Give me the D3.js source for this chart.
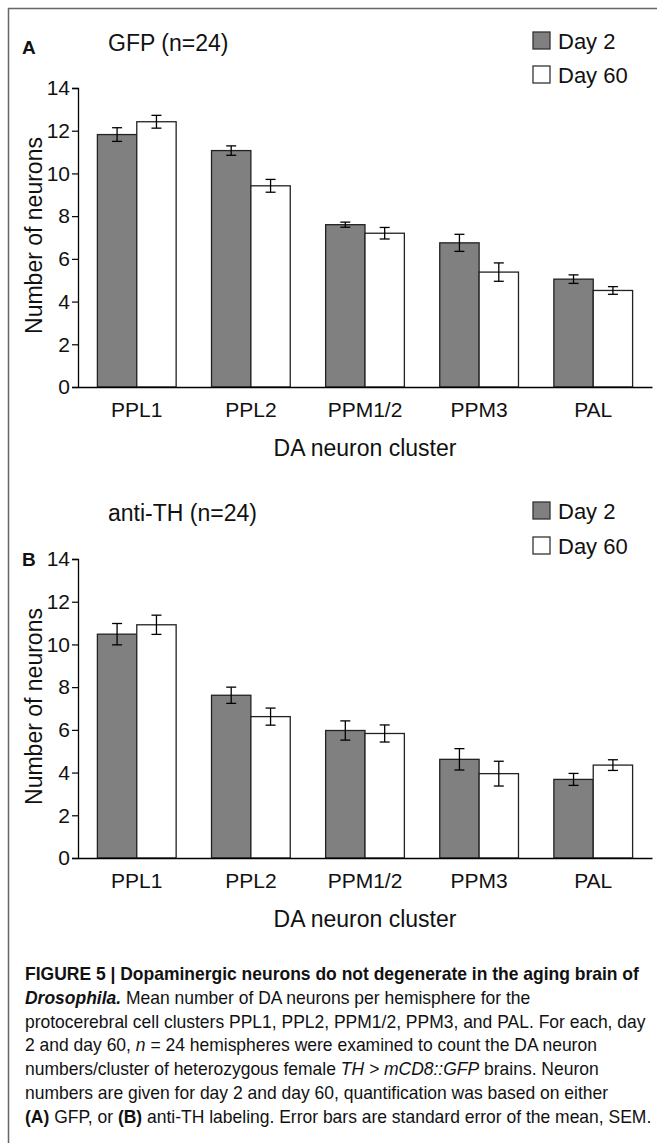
<!DOCTYPE html>
<html lang="en">
  <head>
    <meta charset="UTF-8" />
    <title>DA neuron clusters</title>
    <script src="https://d3js.org/d3.v7.min.js"></script>
    <style>
      body {
        margin: 0;
        background: #fff;
      }
      svg text {
        font-family: "Liberation Sans", Arial, Helvetica, sans-serif;
        fill: #111;
      }
    </style>
  </head>
  <body>
    <div id="chart"></div>
    <script>
      // data
      const categories = ["PPL1", "PPL2", "PPM1/2", "PPM3", "PAL"];
      const seriesNames = ["Day 2", "Day 60"];
      const yTicks = [0, 2, 4, 6, 8, 10, 12, 14];

      const gfpDay2 = [11.82, 11.07, 7.6, 6.75, 5.05];
      const gfpDay2Err = [0.32, 0.22, 0.12, 0.4, 0.2];
      const gfpDay60 = [12.42, 9.42, 7.2, 5.38, 4.52];
      const gfpDay60Err = [0.3, 0.3, 0.27, 0.43, 0.18];

      const thDay2 = [10.48, 7.62, 5.97, 4.62, 3.68];
      const thDay2Err = [0.5, 0.38, 0.45, 0.5, 0.28];
      const thDay60 = [10.92, 6.62, 5.83, 3.95, 4.35];
      const thDay60Err = [0.45, 0.4, 0.4, 0.58, 0.25];

      const width = 657;
      const height = 1143;
      const colors = { "Day 2": "#808080", "Day 60": "#ffffff" };

      const svg = d3
        .select("#chart")
        .append("svg")
        .attr("width", width)
        .attr("height", height);

      // figure frame (top and left only)
      svg
        .append("path")
        .attr("d", `M8.5,${height} V8.5 H${width}`)
        .attr("fill", "none")
        .attr("stroke", "#666")
        .attr("stroke-width", 1.5);

      function drawPanel(opts) {
        const g = svg.append("g");

        const y = d3.scaleLinear().domain([0, 14]).range([opts.y0, opts.y14]);
        const x = d3
          .scaleBand()
          .domain(categories)
          .range([78, 652])
          .paddingInner(0.31)
          .paddingOuter(0.17);
        const xs = d3
          .scaleBand()
          .domain(seriesNames)
          .range([0, x.bandwidth()]);

        const rows = categories.map((c, i) => ({
          cat: c,
          vals: [
            { s: "Day 2", v: opts.day2[i], e: opts.day2Err[i] },
            { s: "Day 60", v: opts.day60[i], e: opts.day60Err[i] },
          ],
        }));

        const groups = g
          .selectAll(".grp")
          .data(rows)
          .enter()
          .append("g")
          .attr("transform", (d) => `translate(${x(d.cat)},0)`);

        groups
          .selectAll("rect")
          .data((d) => d.vals)
          .enter()
          .append("rect")
          .attr("x", (d) => xs(d.s))
          .attr("width", xs.bandwidth())
          .attr("y", (d) => y(d.v))
          .attr("height", (d) => y(0) - y(d.v))
          .attr("fill", (d) => colors[d.s])
          .attr("stroke", "#222")
          .attr("stroke-width", 1.3);

        // error bars
        const err = groups
          .selectAll(".err")
          .data((d) => d.vals)
          .enter()
          .append("g")
          .attr("stroke", "#000")
          .attr("stroke-width", 1.3);
        const cx = (d) => xs(d.s) + xs.bandwidth() / 2;
        err
          .append("line")
          .attr("x1", cx)
          .attr("x2", cx)
          .attr("y1", (d) => y(d.v - d.e))
          .attr("y2", (d) => y(d.v + d.e));
        err
          .append("line")
          .attr("x1", (d) => cx(d) - 5)
          .attr("x2", (d) => cx(d) + 5)
          .attr("y1", (d) => y(d.v + d.e))
          .attr("y2", (d) => y(d.v + d.e));
        err
          .append("line")
          .attr("x1", (d) => cx(d) - 5)
          .attr("x2", (d) => cx(d) + 5)
          .attr("y1", (d) => y(d.v - d.e))
          .attr("y2", (d) => y(d.v - d.e));

        // axes
        const yAxis = g
          .append("g")
          .attr("transform", "translate(78,0)")
          .call(d3.axisLeft(y).tickValues(yTicks).tickSize(6).tickPadding(2));
        yAxis.attr("font-family", null);
        yAxis.selectAll("text").attr("font-size", 21);

        const xAxis = g
          .append("g")
          .attr("transform", `translate(0,${opts.y0})`)
          .call(d3.axisBottom(x).tickSize(0).tickSizeOuter(0).tickPadding(15));
        xAxis.attr("font-family", null);
        xAxis.selectAll("text").attr("font-size", 21);
        g.selectAll(".domain").attr("stroke", "#000").attr("stroke-width", 1.3);
        g.selectAll(".tick line").attr("stroke", "#000").attr("stroke-width", 1.2);

        // axis titles
        g.append("text")
          .attr("transform", `translate(34,${(opts.y0 + opts.y14) / 2 - 2}) rotate(-90)`)
          .attr("text-anchor", "middle")
          .attr("dominant-baseline", "central")
          .attr("font-size", 23)
          .text("Number of neurons");

        g.append("text")
          .attr("x", 365)
          .attr("y", opts.y0 + 61)
          .attr("text-anchor", "middle")
          .attr("dominant-baseline", "central")
          .attr("font-size", 23)
          .text("DA neuron cluster");

        // panel letter and title
        g.append("text")
          .attr("x", 22)
          .attr("y", opts.letterY)
          .attr("dominant-baseline", "central")
          .attr("font-size", 19)
          .attr("font-weight", "bold")
          .text(opts.letter);

        g.append("text")
          .attr("x", 108)
          .attr("y", opts.titleY)
          .attr("dominant-baseline", "central")
          .attr("font-size", 23)
          .text(opts.title);

        // legend
        const leg = g
          .selectAll(".leg")
          .data(seriesNames)
          .enter()
          .append("g")
          .attr("transform", (d, i) => `translate(533,${opts.legendY[i]})`);
        leg
          .append("rect")
          .attr("x", 0)
          .attr("y", -9)
          .attr("width", 17)
          .attr("height", 17)
          .attr("fill", (d) => colors[d])
          .attr("stroke", "#333")
          .attr("stroke-width", 1.3);
        leg
          .append("text")
          .attr("x", 25)
          .attr("y", 0)
          .attr("dominant-baseline", "central")
          .attr("font-size", 22)
          .text((d) => d);
      }

      drawPanel({
        y0: 387,
        y14: 88,
        day2: gfpDay2,
        day2Err: gfpDay2Err,
        day60: gfpDay60,
        day60Err: gfpDay60Err,
        letter: "A",
        letterY: 47,
        title: "GFP (n=24)",
        titleY: 43,
        legendY: [41, 75],
      });

      drawPanel({
        y0: 858,
        y14: 559,
        day2: thDay2,
        day2Err: thDay2Err,
        day60: thDay60,
        day60Err: thDay60Err,
        letter: "B",
        letterY: 559,
        title: "anti-TH  (n=24)",
        titleY: 513,
        legendY: [511, 546],
      });

      // caption
      const captionLines = [
        [{ t: "FIGURE 5 | Dopaminergic neurons do not degenerate in the aging brain of", b: true }],
        [
          { t: "Drosophila.", b: true, i: true },
          { t: " Mean number of DA neurons per hemisphere for the" },
        ],
        [{ t: "protocerebral cell clusters PPL1, PPL2, PPM1/2, PPM3, and PAL. For each, day" }],
        [
          { t: "2 and day 60, " },
          { t: "n", i: true },
          { t: " = 24 hemispheres were examined to count the DA neuron" },
        ],
        [
          { t: "numbers/cluster of heterozygous female " },
          { t: "TH > mCD8::GFP", i: true },
          { t: " brains. Neuron" },
        ],
        [{ t: "numbers are given for day 2 and day 60, quantification was based on either" }],
        [
          { t: "(A)", b: true },
          { t: " GFP, or " },
          { t: "(B)", b: true },
          { t: " anti-TH labeling. Error bars are standard error of the mean, SEM." },
        ],
      ];

      const cap = svg.append("g").attr("class", "caption");
      const capText = cap
        .selectAll("text")
        .data(captionLines)
        .enter()
        .append("text")
        .attr("x", 0)
        .attr("y", 0)
        .attr("font-size", 17.5)
        .attr("transform", (d, i) => `translate(25,${980 + i * 23.8})`);
      capText
        .selectAll("tspan")
        .data((d) => d)
        .enter()
        .append("tspan")
        .attr("font-weight", (d) => (d.b ? "bold" : null))
        .attr("font-style", (d) => (d.i ? "italic" : null))
        .text((d) => d.t);

      // squeeze the caption horizontally so full lines end at the right margin
      const natural = capText.nodes().map((n) => n.getBBox().width);
      const k = (621 / natural[0] + 620 / natural[2] + 621 / natural[6]) / 3;
      capText.attr(
        "transform",
        (d, i) => `translate(25,${980 + i * 23.8}) scale(${k},1)`
      );
    </script>
  </body>
</html>
